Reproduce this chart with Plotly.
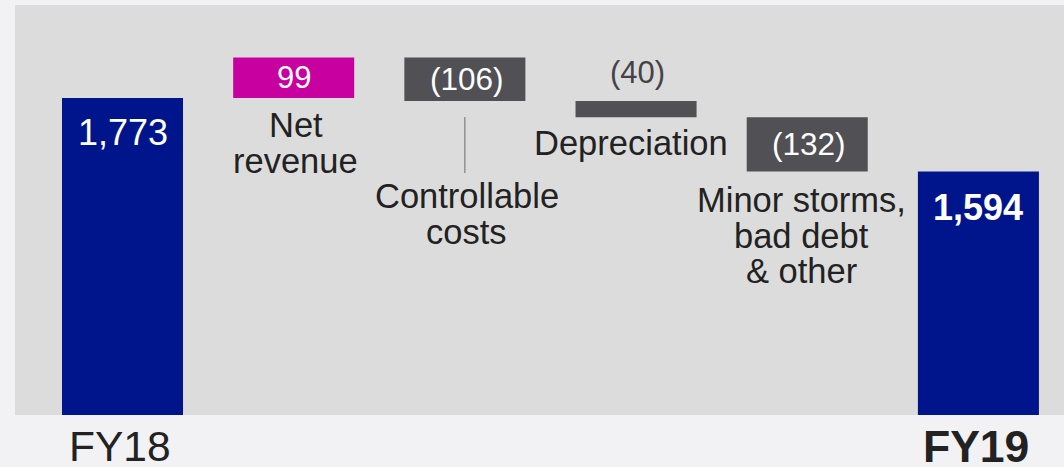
import plotly.graph_objects as go

# ---- data ----
categories = ["FY18", "Net revenue", "Controllable costs", "Depreciation",
              "Minor storms, bad debt & other", "FY19"]
values = [1773, 99, -106, -40, -132, 1594]
kinds = ["total", "delta", "delta", "delta", "delta", "total"]
value_labels = ["1,773", "99", "(106)", "(40)", "(132)", "1,594"]
tick_labels = ["FY18", "", "", "", "", "<b>FY19</b>"]
label_lines = [
    [],
    ["Net", "revenue"],
    ["Controllable", "costs"],
    ["Depreciation"],
    ["Minor storms,", "bad debt", "& other"],
    [],
]

NAVY = "#00148C"
MAGENTA = "#C800A0"
DGREY = "#505055"
FONT = "Liberation Sans, Arial, Helvetica, sans-serif"

# ---- waterfall geometry from data ----
bases, heights, colors = [], [], []
running = 0
for v, k in zip(values, kinds):
    if k == "total":
        bases.append(0)
        heights.append(v)
        colors.append(NAVY)
        running = v
    else:
        bases.append(running)
        heights.append(v)
        colors.append(MAGENTA if v > 0 else DGREY)
        running += v

fig = go.Figure()
fig.add_trace(go.Bar(
    x=categories, y=heights, base=bases,
    marker=dict(color=colors, line=dict(width=0)),
    width=0.707, hoverinfo="skip", showlegend=False,
))


def paper_y(p):
    return (415 - p) / 410


ann = []
# value labels
for i, (lab, b, h, k) in enumerate(zip(value_labels, bases, heights, kinds)):
    top = max(b, b + h)
    mid = b + h / 2
    if k == "total":
        bold = (i == len(values) - 1)
        ann.append(dict(x=categories[i], y=top, xref="x", yref="y",
                        text=f"<b>{lab}</b>" if bold else lab,
                        showarrow=False, yanchor="middle",
                        yshift=-34 if not bold else -36,
                        font=dict(family=FONT, size=36, color="white")))
    elif categories[i] == "Depreciation":
        ann.append(dict(x=categories[i], y=top, xref="x", yref="y", text=lab,
                        showarrow=False, yanchor="middle", yshift=28,
                        xshift=1,
                        font=dict(family=FONT, size=31, color="#444448")))
    else:
        ann.append(dict(x=categories[i], y=mid, xref="x", yref="y", text=lab,
                        showarrow=False, yanchor="middle",
                        xshift=2 if h < 0 else 0,
                        font=dict(family=FONT, size=31 if h > 0 else 31.5,
                                  color="white")))

# axis labels FY18 / FY19
for i, t in enumerate(tick_labels):
    if t:
        ann.append(dict(x=categories[i], y=paper_y(446), xref="x",
                        yref="paper", text=t, showarrow=False,
                        yanchor="middle", xshift=-3 if i == 0 else -2,
                        font=dict(family=FONT, size=42.5 if i == 0 else 44.5,
                                  color="#222222")))

# category labels (pixel rows converted to paper coords)
line_rows = {
    1: [125, 161],
    2: [196, 232],
    3: [143],
    4: [200, 235.5, 271],
}
xshift = {1: 2, 2: 2, 3: -5, 4: -6}

for i, lines in enumerate(label_lines):
    for j, line in enumerate(lines):
        ann.append(dict(x=categories[i], y=paper_y(line_rows[i][j]),
                        xref="x", yref="paper", text=line, showarrow=False,
                        yanchor="middle", xshift=xshift[i],
                        font=dict(family=FONT, size=34.5, color="#222222")))

fig.update_layout(
    width=1064, height=467,
    margin=dict(l=15, r=0, t=5, b=52, autoexpand=False),
    paper_bgcolor="#F2F2F4", plot_bgcolor="#DCDCDC",
    annotations=ann,
    shapes=[dict(type="line", xref="x", yref="paper",
                 x0=categories[2], x1=categories[2],
                 y0=paper_y(117), y1=paper_y(173),
                 line=dict(color="#6E6E72", width=1))],
    xaxis=dict(type="category", range=[-0.628, 5.5], showgrid=False,
               zeroline=False, showline=False, ticks="",
               showticklabels=False, automargin=False),
    yaxis=dict(range=[1000, 2000], visible=False, showgrid=False,
               zeroline=False, automargin=False),
    bargap=0.29,
)

fig.write_html("out.html",
               config={"displayModeBar": False},
               post_script="document.body.style.margin='0';"
                           "document.body.style.overflow='hidden';")
